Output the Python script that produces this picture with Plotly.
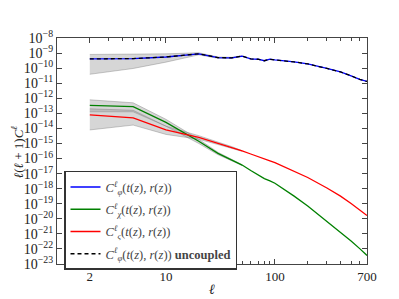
import plotly.graph_objects as go

# multipole values
ells = [2, 5, 10, 20, 30, 40, 50, 60, 70, 80, 90, 100, 150, 200, 300, 400, 500, 600, 700]
c_phi = [4.1e-10, 4.3e-10, 5.5e-10, 8.9e-10, 5.0e-10, 4.8e-10, 6.3e-10, 4.1e-10, 3.9e-10,
         3.1e-10, 3.9e-10, 3.5e-10, 2.6e-10, 1.9e-10, 9.5e-11, 5.6e-11, 3.1e-11, 1.8e-11, 1.3e-11]
c_chi = [3.4e-13, 2.75e-13, 2.5e-14, 1.4e-15, 2.2e-16, 8.1e-17, 3.7e-17, 1.6e-17, 8.0e-18,
         4.6e-18, 3.3e-18, 2.3e-18, 3.2e-19, 7.1e-20, 6.6e-21, 1.26e-21, 3.4e-22, 1.05e-22, 3.7e-23]
c_vs = [7.9e-14, 5.0e-14, 7.9e-15, 2.5e-15, 1.02e-15, 5.6e-16, 3.2e-16, 2.0e-16, 1.3e-16,
        8.9e-17, 7.1e-17, 5.4e-17, 1.4e-17, 5.5e-18, 1.1e-18, 3.2e-19, 1.05e-19, 3.8e-20, 1.66e-20]
c_phi_uncoupled = c_phi

# uncertainty bands
band_ells = [2, 5, 10, 20, 30, 40, 50]
phi_lo = [3.9e-11, 9.5e-11, 2.5e-10, 7.6e-10, 4.5e-10, 4.4e-10, 5.9e-10]
phi_hi = [8.1e-10, 8.3e-10, 8.9e-10, 1.05e-9, 5.5e-10, 5.2e-10, 6.7e-10]
chi_lo = [1.26e-13, 1.26e-13, 1.4e-14, 1.0e-15, 1.8e-16, 7.2e-17, 3.5e-17]
chi_hi = [7.9e-13, 5.0e-13, 4.0e-14, 1.9e-15, 2.6e-16, 9.0e-17, 3.9e-17]
vs_lo = [7.9e-15, 1.66e-14, 4.0e-15, 1.9e-15, 8.5e-16, 5.0e-16, 3.0e-16]
vs_hi = [2.0e-13, 1.6e-13, 1.4e-14, 3.3e-15, 1.23e-15, 6.3e-16, 3.3e-16]

x_ticks = [2, 10, 100, 700]
x_minor = [3, 4, 5, 6, 7, 8, 9, 20, 30, 40, 50, 60, 70, 80, 90, 200, 300, 400, 500, 600]
y_exps = list(range(-8, -24, -1))

FONT = "Liberation Serif"
fig = go.Figure()

band_fill = "rgba(140,140,140,0.36)"
for lo, hi in [(phi_lo, phi_hi), (chi_lo, chi_hi), (vs_lo, vs_hi)]:
    fig.add_trace(go.Scatter(x=band_ells, y=lo, mode="lines",
                             line=dict(color="rgba(110,110,110,0.6)", width=0.6),
                             showlegend=False, hoverinfo="skip"))
    fig.add_trace(go.Scatter(x=band_ells, y=hi, mode="lines", fill="tonexty",
                             fillcolor=band_fill,
                             line=dict(color="rgba(110,110,110,0.6)", width=0.6),
                             showlegend=False, hoverinfo="skip"))

lab = "<i>C</i><sup><i>ℓ</i></sup><sub><i>{}</i></sub>(<i>t</i>(<i>z</i>), <i>r</i>(<i>z</i>))"
fig.add_trace(go.Scatter(x=ells, y=c_phi, mode="lines", line=dict(color="#0000ff", width=1.3),
                         name=lab.format("φ"), legendgroup="a"))
fig.add_trace(go.Scatter(x=ells, y=c_chi, mode="lines", line=dict(color="#008000", width=1.3),
                         name=lab.format("χ"), legendgroup="b"))
fig.add_trace(go.Scatter(x=ells, y=c_vs, mode="lines", line=dict(color="#ff0000", width=1.3),
                         name=lab.format("ς"), legendgroup="c"))
fig.add_trace(go.Scatter(x=ells, y=c_phi_uncoupled, mode="lines",
                         line=dict(color="black", width=1.3, dash="4px,3px"),
                         name='<span style="color:#444">' + lab.format("φ") +
                              '</span> <b>uncoupled</b>', legendgroup="d"))

fig.update_xaxes(type="log", range=[0, 2.845098], tickvals=x_ticks,
                 ticktext=[str(v) for v in x_ticks], ticks="inside", ticklen=5,
                 tickcolor="#444", showline=True, linecolor="#444", linewidth=1.3,
                 mirror="allticks", showgrid=False, zeroline=False,
                 tickfont=dict(family=FONT, size=13, color="#222"),
                 minor=dict(tickvals=x_minor, ticks="inside", ticklen=3, tickcolor="#444",
                            showgrid=False),
                 title=dict(text="<i>ℓ</i>", font=dict(family=FONT, size=14, color="#222"),
                            standoff=1))
fig.update_yaxes(type="log", range=[-23, -8], tickvals=[10.0 ** e for e in y_exps],
                 ticktext=["10<sup>−%d</sup>" % (-e) for e in y_exps],
                 ticks="inside", ticklen=5, tickcolor="#444", showline=True,
                 linecolor="#444", linewidth=1.3, mirror="allticks", showgrid=False,
                 zeroline=False, tickfont=dict(family=FONT, size=14, color="#222"))

fig.add_annotation(text="<i>ℓ</i>(<i>ℓ</i> + 1)<i>C</i><sup><i>ℓ</i></sup>",
                   xref="paper", yref="paper", x=-0.128, y=0.496, textangle=-90,
                   showarrow=False, xanchor="center", yanchor="middle",
                   font=dict(family=FONT, size=13, color="#222"))

fig.update_layout(
    width=399, height=299,
    margin=dict(l=49, r=40, t=30, b=31),
    paper_bgcolor="white", plot_bgcolor="white",
    font=dict(family=FONT, size=12, color="#222"),
    showlegend=True,
    legend=dict(x=0.0226, y=0.412, xanchor="left", yanchor="top",
                bgcolor="white", bordercolor="#333", borderwidth=1.5,
                font=dict(family=FONT, size=12.5, color="#444"),
                tracegroupgap=3, itemwidth=30),
)

fig.write_html("out.html")
